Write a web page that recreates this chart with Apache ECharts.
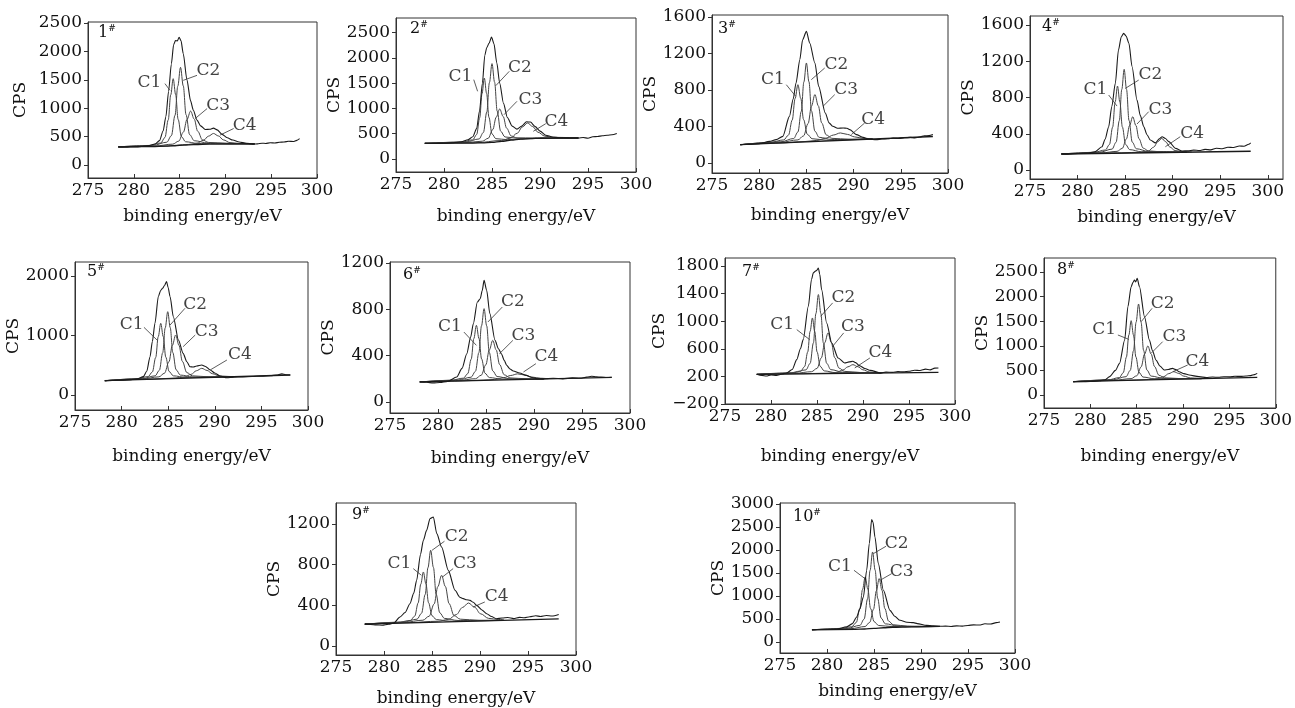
<!DOCTYPE html>
<html><head><meta charset="utf-8">
<script src="https://cdn.jsdelivr.net/npm/echarts@6/dist/echarts.min.js"></script>
<style>html,body{margin:0;padding:0;background:#fff}#c{width:1295px;height:708px}</style>
</head><body><div id="c"></div>
<script>
// ---------------- DATA ----------------
const xTicks = [275, 280, 285, 290, 295, 300];
const panelNames = ['1', '2', '3', '4', '5', '6', '7', '8', '9', '10'];

// Panel 1
const p1_yTicks = [0, 500, 1000, 1500, 2000, 2500];
const p1_total = [[278.3,318],[279,312],[279.6,320],[280.3,318],[281,332],[281.7,345],[282.3,370],[282.8,430],[283.2,600],[283.5,850],[283.8,1300],[284.1,1780],[284.35,2120],[284.55,2190],[284.75,2185],[284.95,2250],[285.15,2190],[285.4,1960],[285.8,1500],[286.2,1130],[286.5,965],[286.9,790],[287.3,690],[287.8,625],[288.3,630],[288.7,650],[289.1,620],[289.6,545],[290.2,480],[290.8,440],[291.5,405],[292.3,385],[293,368],[293.5,372],[294,385],[294.4,380],[294.9,392],[295.4,388],[295.9,402],[296.4,405],[296.9,420],[297.4,415],[297.8,435],[298.1,465]];
const p1_base = [[278.3,320],[282,325],[283.5,332],[284.5,340],[285.5,350],[286.5,358],[287.5,365],[289,370],[293.2,372]];
const p1_c1 = [[278.3,320],[281.6,342],[282.95,389],[283.4,486],[283.76,795],[284.03,1234],[284.3,1520],[284.57,1239],[284.84,804],[285.2,501],[285.65,410],[287,380],[293.2,372]];
const p1_c2 = [[278.3,320],[282.1,346],[283.6,402],[284.1,516],[284.5,876],[284.8,1387],[285.1,1720],[285.4,1393],[285.7,888],[286.1,534],[286.6,428],[288.1,388],[293.2,372]];
const p1_c3 = [[278.3,320],[282.3,335],[284.25,368],[284.9,421],[285.42,581],[285.81,804],[286.2,950],[286.59,811],[286.98,594],[287.5,442],[288.15,398],[290.1,380],[293.2,372]];
const p1_c4 = [[278.3,320],[283.3,334],[286,363],[286.9,385],[287.62,438],[288.16,509],[288.7,556],[289.24,512],[289.78,443],[290.5,395],[291.4,380],[293.2,374]];
const p1_labels = [['C1',281.7,1460],['C2',288.15,1666],['C3',289.2,1052],['C4',292.1,702]];
const p1_leaders = [[[283.4,1433],[283.95,1315]],[[286.9,1579],[285.4,1491]],[[288.0,994],[286.7,818]],[[290.9,643],[289.4,526]]];

// Panel 2
const p2_yTicks = [0, 500, 1000, 1500, 2000, 2500];
const p2_total = [[278,312],[279,305],[280,312],[281,322],[281.8,340],[282.5,380],[283,440],[283.4,600],[283.7,950],[284,1500],[284.25,2050],[284.45,2200],[284.7,2290],[284.95,2410],[285.2,2280],[285.5,1900],[285.8,1500],[286.2,1100],[286.6,820],[287.1,650],[287.6,590],[288.1,650],[288.6,735],[289,730],[289.5,640],[290,550],[290.6,470],[291.3,435],[292,420],[293,418],[294,415],[294.5,425],[295,410],[295.5,440],[296,445],[296.5,460],[297,470],[297.5,478],[298,505]];
const p2_base = [[278,310],[283,315],[284,320],[285,330],[286,350],[287,372],[288,392],[289,403],[290,410],[294,415]];
const p2_c1 = [[278,310],[281.8,332],[283,379],[283.4,483],[283.72,817],[283.96,1291],[284.2,1600],[284.44,1295],[284.68,825],[285,496],[285.4,402],[286.6,382],[288,394],[290,411],[294,415]];
const p2_c2 = [[278,310],[282.3,337],[283.65,396],[284.1,523],[284.46,930],[284.73,1509],[285,1885],[285.27,1517],[285.54,947],[285.9,550],[286.35,436],[287.7,409],[289,406],[290.5,412],[294,415]];
const p2_c3 = [[278,310],[282.2,324],[284,352],[284.6,409],[285.08,582],[285.44,827],[285.8,988],[286.16,842],[286.52,611],[287,455],[287.6,417],[289.4,416],[294,415]];
const p2_c4 = [[278,310],[283.3,321],[286,366],[286.9,411],[287.62,508],[288.16,632],[288.7,712],[289.24,642],[289.78,530],[290.5,452],[291.4,428],[294,418]];
const p2_labels = [['C1',281.7,1634],['C2',287.9,1799],['C3',289.0,1173],['C4',291.7,745]];
const p2_leaders = [[[283.1,1568],[283.5,1338]],[[286.8,1733],[285.4,1450]],[[287.6,1140],[286.25,876]],[[290.6,698],[289.3,547]]];

// Panel 3
const p3_yTicks = [0, 400, 800, 1200, 1600];
const p3_total = [[278,201],[279,205],[280,212],[281.1,237],[281.8,256],[282.5,292],[283.2,511],[283.6,700],[283.9,877],[284.3,1132],[284.6,1351],[285,1443],[285.35,1315],[285.9,1096],[286.3,840],[287,548],[287.4,440],[287.8,402],[288.3,380],[288.9,384],[289.3,380],[289.6,365],[290.3,311],[291,280],[291.6,262],[292.4,256],[293,262],[293.6,265],[294.2,272],[294.8,268],[295.4,276],[296,280],[296.5,275],[297,285],[297.5,298],[298,300],[298.4,311]];
const p3_base = [[278,200],[298.4,290]];
const p3_c1 = [[278,200],[281.1,223],[282.6,253],[283.1,305],[283.5,471],[283.8,706],[284.1,858],[284.4,709],[284.7,476],[285.1,314],[285.6,266],[287.1,250],[292,263]];
const p3_c2 = [[278,200],[282.3,232],[283.65,268],[284.1,339],[284.46,566],[284.73,887],[285,1096],[285.27,890],[285.54,571],[285.9,348],[286.35,281],[287.7,257],[292,263]];
const p3_c3 = [[278,200],[282.3,227],[284.1,253],[284.7,297],[285.18,432],[285.54,624],[285.9,749],[286.26,627],[286.62,439],[287.1,308],[287.7,270],[289.5,260],[292,263]];
const p3_c4 = [[278,200],[282,218],[284.85,235],[286.1,247],[287.1,273],[287.85,306],[288.6,329],[289.35,313],[290.1,286],[291.1,270],[292,265]];
const p3_labels = [['C1',281.46,913],['C2',288.17,1078],['C3',289.2,804],['C4',292.06,475]];
const p3_leaders = [[[282.87,858],[283.86,731]],[[286.94,1041],[285.52,913]],[[288.0,749],[286.76,621]],[[291.17,438],[289.76,311]]];

// Panel 4
const p4_yTicks = [0, 400, 800, 1200, 1600];
const p4_total = [[278.3,178],[279,176],[280,182],[281,188],[281.8,200],[282.57,257],[282.9,340],[283.27,478],[283.6,700],[283.97,956],[284.3,1324],[284.6,1470],[284.85,1508],[285.1,1480],[285.4,1398],[285.73,1140],[286.25,772],[286.6,600],[286.96,478],[287.3,390],[287.65,331],[288.2,300],[288.6,345],[288.9,368],[289.2,350],[289.6,313],[290.3,239],[291,210],[291.6,212],[292.2,220],[292.8,215],[293.4,228],[294,222],[294.6,240],[295.2,235],[295.8,252],[296.4,248],[297,265],[297.5,262],[298,285],[298.2,300]];
const p4_base = [[278.3,177],[298.2,207]];
const p4_c1 = [[278.3,177],[281.65,193],[282.93,221],[283.35,281],[283.69,474],[283.95,749],[284.2,927],[284.45,749],[284.71,476],[285.05,283],[285.48,225],[286.75,201],[291.5,197]];
const p4_c2 = [[278.3,177],[282.35,197],[283.63,231],[284.05,306],[284.39,546],[284.65,889],[284.9,1111],[285.15,890],[285.41,548],[285.75,308],[286.18,235],[287.45,205],[291.5,197]];
const p4_c3 = [[278.3,177],[282.5,189],[284.15,206],[284.7,239],[285.14,344],[285.47,492],[285.8,588],[286.13,493],[286.46,345],[286.9,242],[287.45,211],[289.1,199],[291.5,197]];
const p4_c4 = [[278.3,177],[284.65,189],[286.75,198],[287.45,211],[288.01,253],[288.43,312],[288.85,349],[289.27,312],[289.69,255],[290.25,215],[290.95,204],[292,200]];
const p4_labels = [['C1',281.87,883],['C2',287.65,1048],['C3',288.7,662],['C4',292.04,405]];
const p4_leaders = [[[283.27,828],[284.15,706]],[[286.43,993],[285.02,901]],[[287.48,644],[286.25,508]],[[290.8,368],[289.23,257]]];

// Panel 5
const p5_yTicks = [0, 1000, 2000];
const p5_total = [[278.2,241],[279,244],[280,250],[281,258],[281.7,272],[282.33,308],[282.7,400],[283.05,644],[283.3,900],[283.58,1204],[283.94,1653],[284.2,1760],[284.4,1793],[284.6,1840],[284.83,1905],[285,1800],[285.2,1653],[285.55,1316],[286.1,924],[286.6,700],[287,560],[287.34,476],[287.7,470],[288.06,487],[288.6,504],[289,480],[289.5,420],[290,370],[290.56,319],[291.3,290],[292,300],[293,305],[294,310],[295,318],[296,325],[296.6,335],[297.2,355],[297.6,340],[298.1,336]];
const p5_base = [[278.2,240],[298.1,336]];
const p5_c1 = [[278.2,240],[281.5,270],[282.85,309],[283.3,387],[283.66,631],[283.93,979],[284.2,1204],[284.47,981],[284.74,637],[285.1,395],[285.55,322],[286.9,296],[292,307]];
const p5_c2 = [[278.2,240],[282.25,277],[283.6,322],[284.05,415],[284.41,710],[284.68,1128],[284.95,1400],[285.22,1131],[285.49,715],[285.85,424],[286.3,335],[287.65,303],[292,307]];
const p5_c3 = [[278.2,240],[282.2,270],[284,305],[284.6,366],[285.08,558],[285.44,831],[285.8,1008],[286.16,835],[286.52,565],[287,377],[287.6,322],[289.4,305],[292,308]];
const p5_c4 = [[278.2,240],[282.9,265],[285.75,284],[286.7,302],[287.46,347],[288.03,408],[288.6,448],[289.17,413],[289.74,358],[290.5,320],[291.45,312],[292,308]];
const p5_labels = [['C1',281.08,1176],['C2',287.88,1513],['C3',289.13,1064],['C4',292.7,672]];
const p5_leaders = [[[282.4,1137],[283.8,924]],[[286.8,1457],[285.2,1176]],[[287.9,1008],[286.6,812]],[[291.3,588],[289.5,420]]];

// Panel 6
const p6_yTicks = [0, 400, 800, 1200];
const p6_total = [[278.1,175],[278.8,170],[279.5,165],[280.2,168],[281,178],[281.95,216],[282.5,290],[283,417],[283.4,560],[283.68,676],[284.1,863],[284.4,892],[284.6,960],[284.8,1050],[285.07,964],[285.4,763],[285.94,532],[286.3,460],[286.6,417],[286.9,360],[287.15,317],[287.5,285],[287.84,268],[288.5,250],[289.2,230],[289.8,212],[290.3,201],[291,200],[292,205],[293,200],[294,208],[294.8,205],[295.5,215],[296,222],[296.5,218],[297,215],[297.6,212],[298.1,214]];
const p6_base = [[278.1,173],[298.1,212]];
const p6_c1 = [[278.1,173],[281.3,186],[282.65,206],[283.1,245],[283.46,370],[283.73,547],[284,662],[284.27,548],[284.54,372],[284.9,248],[285.35,211],[286.7,197],[291,198]];
const p6_c2 = [[278.1,173],[282.1,190],[283.45,214],[283.9,265],[284.26,427],[284.53,657],[284.8,806],[285.07,658],[285.34,429],[285.7,269],[286.15,220],[287.5,200],[291,198]];
const p6_c3 = [[278.1,173],[282.1,186],[283.9,201],[284.5,231],[284.98,321],[285.34,448],[285.7,532],[286.06,450],[286.42,323],[286.9,235],[287.5,208],[289.3,200],[291,198]];
const p6_c4 = [[278.1,173],[282,181],[284.7,189],[285.9,195],[286.86,210],[287.58,229],[288.3,243],[289.02,233],[289.74,216],[290.7,205],[291.5,201]];
const p6_labels = [['C1',281.25,648],['C2',287.8,863],['C3',288.9,576],['C4',291.3,389]];
const p6_leaders = [[[282.7,604],[284.0,489]],[[286.7,820],[285.2,691]],[[287.8,532],[286.4,417]],[[290.2,331],[288.9,259]]];

// Panel 7
const p7_yTicks = [-200, 200, 600, 1000, 1400, 1800];
const p7_total = [[278.45,232],[279,215],[279.5,205],[280,222],[280.6,215],[281.2,235],[281.7,250],[282.3,300],[282.8,443],[283.2,600],[283.5,733],[284.06,1216],[284.4,1603],[284.6,1700],[284.8,1724],[285,1740],[285.15,1772],[285.3,1680],[285.5,1458],[286.05,975],[286.6,685],[287.3,467],[288,395],[288.5,410],[288.9,419],[289.2,400],[289.6,356],[290.2,315],[290.8,288],[291.9,250],[292.5,262],[293.2,258],[293.8,270],[294.4,265],[295,275],[295.6,290],[296.2,285],[296.8,305],[297.3,295],[297.8,320],[298.2,322]];
const p7_base = [[278.45,230],[298.2,258]];
const p7_c1 = [[278.45,230],[281.95,247],[283.23,277],[283.65,342],[283.99,553],[284.25,852],[284.5,1047],[284.75,853],[285.01,554],[285.35,345],[285.78,280],[287.05,254],[292,249]];
const p7_c2 = [[278.45,230],[282.45,253],[283.8,295],[284.25,387],[284.61,686],[284.88,1110],[285.15,1386],[285.42,1111],[285.69,687],[286.05,390],[286.5,298],[287.85,260],[292,249]];
const p7_c3 = [[278.45,230],[282.6,245],[284.4,268],[285,316],[285.48,470],[285.84,689],[286.2,830],[286.56,690],[286.92,472],[287.4,320],[288,273],[289.8,255],[292,250]];
const p7_c4 = [[278.45,230],[283.5,239],[286.2,247],[287.1,258],[287.82,292],[288.36,339],[288.9,370],[289.44,341],[289.98,296],[290.7,264],[291.6,255],[292.2,251]];
const p7_labels = [['C1',281.2,950],['C2',287.86,1337],['C3',288.9,926],['C4',291.9,540]];
const p7_leaders = [[[282.8,878],[284.2,733]],[[286.7,1265],[285.4,1071]],[[287.9,830],[286.7,636]],[[290.75,467],[289.1,322]]];

// Panel 8
const p8_yTicks = [0, 500, 1000, 1500, 2000, 2500];
const p8_total = [[278.15,272],[279,270],[280,275],[281,290],[281.6,310],[282.08,373],[282.7,500],[283.15,644],[283.7,1118],[284.05,1795],[284.4,2202],[284.6,2290],[284.76,2337],[284.9,2300],[285.05,2371],[285.3,2202],[285.84,1592],[286.37,1118],[286.7,900],[287.08,711],[287.5,590],[287.97,508],[288.4,520],[288.86,542],[289.2,520],[289.58,474],[290.1,435],[290.65,406],[291.7,373],[292.5,355],[293.2,365],[293.8,360],[294.4,372],[295,368],[295.6,380],[296.2,378],[296.8,385],[297.3,395],[297.7,415],[298,440]];
const p8_base = [[278.15,271],[298,359]];
const p8_c1 = [[278.15,271],[281.85,305],[283.13,354],[283.55,453],[283.89,770],[284.15,1219],[284.4,1511],[284.65,1221],[284.91,774],[285.25,460],[285.68,365],[286.95,328],[292,332]];
const p8_c2 = [[278.15,271],[282.5,313],[283.85,373],[284.3,499],[284.66,904],[284.93,1477],[285.2,1850],[285.47,1479],[285.74,908],[286.1,507],[286.55,385],[287.9,337],[292,332]];
const p8_c3 = [[278.15,271],[282.6,301],[284.4,333],[285,391],[285.48,572],[285.84,829],[286.2,996],[286.56,832],[286.92,579],[287.4,402],[288,349],[289.8,333],[292,334]];
const p8_c4 = [[278.15,271],[283.6,297],[286.3,315],[287.2,331],[287.92,374],[288.46,435],[289,474],[289.54,439],[290.08,384],[290.8,347],[291.7,339],[292.2,336]];
const p8_labels = [['C1',281.5,1321],['C2',287.8,1863],['C3',289.06,1186],['C4',291.56,678]];
const p8_leaders = [[[282.97,1220],[284.16,1131]],[[286.66,1762],[285.48,1490]],[[287.8,1084],[286.55,847]],[[290.5,610],[288.9,474]]];

// Panel 9
const p9_yTicks = [0, 400, 800, 1200];
const p9_total = [[278,218],[278.6,212],[279.2,208],[279.8,205],[280.5,215],[281,225],[281.67,285],[282.2,330],[282.7,416],[283.1,520],[283.4,646],[283.8,900],[284.1,1039],[284.44,1138],[284.8,1253],[285.14,1269],[285.5,1105],[286,974],[286.7,744],[287.4,548],[287.9,480],[288.26,466],[288.6,455],[288.96,449],[289.3,430],[289.65,400],[290.2,355],[290.7,318],[291.2,290],[291.7,269],[292.3,275],[292.9,280],[293.5,270],[294.1,282],[294.6,278],[295.2,288],[295.8,298],[296.3,290],[296.9,300],[297.5,296],[298.2,311]];
const p9_base = [[278,215],[298.2,268]];
const p9_c1 = [[278,215],[281.4,231],[282.75,252],[283.2,294],[283.56,424],[283.83,608],[284.1,728],[284.37,610],[284.64,426],[285,298],[285.45,260],[286.8,245],[292,252]];
const p9_c2 = [[278,215],[282,236],[283.44,264],[283.91,322],[284.29,507],[284.58,770],[284.86,941],[285.15,772],[285.43,510],[285.81,327],[286.29,272],[287.71,251],[292,252]];
const p9_c3 = [[278,215],[282.1,233],[284.05,254],[284.7,293],[285.22,413],[285.61,584],[286,695],[286.39,586],[286.78,417],[287.3,299],[287.95,264],[289.9,253],[292,253]];
const p9_c4 = [[278,215],[282.5,230],[285.65,244],[286.7,261],[287.54,310],[288.17,379],[288.8,423],[289.43,382],[290.06,317],[290.9,272],[291.95,261],[292.5,257]];
const p9_labels = [['C1',281.6,810],['C2',287.57,1072],['C3',288.44,810],['C4',291.74,482]];
const p9_leaders = [[[283.05,761],[283.9,695]],[[286.3,1030],[285.0,941]],[[287.2,761],[286.1,679]],[[290.5,433],[289.3,384]]];

// Panel 10
const p10_yTicks = [0, 500, 1000, 1500, 2000, 2500, 3000];
const p10_total = [[278.4,268],[279,270],[280,272],[281,280],[282.1,330],[282.7,400],[283.16,543],[283.5,720],[283.87,978],[284.22,1558],[284.5,2138],[284.75,2659],[284.9,2600],[285.1,2282],[285.46,1703],[286,1123],[286.7,688],[287.2,560],[287.77,471],[288.5,430],[289.18,420],[289.6,400],[290.6,362],[291.3,350],[292,341],[292.6,345],[293.2,338],[293.8,350],[294.4,345],[295,360],[295.6,372],[296.2,368],[296.8,395],[297.4,390],[298,420],[298.4,435]];
const p10_base = [[278.4,265],[283,275],[284,282],[285,295],[286,310],[287,320],[289,330],[292,338]];
const p10_c1 = [[278.4,265],[281.2,287],[282.64,331],[283.11,423],[283.49,719],[283.78,1140],[284.06,1413],[284.35,1146],[284.63,730],[285.01,442],[285.49,359],[286.9,336],[289,332],[292,338]];
const p10_c2 = [[278.4,265],[282.15,298],[283.5,361],[283.95,497],[284.31,934],[284.58,1553],[284.85,1956],[285.12,1562],[285.39,950],[285.75,522],[286.2,395],[287.55,348],[289.5,333],[292,338]];
const p10_c3 = [[278.4,265],[282.55,290],[284.05,336],[284.55,428],[284.95,712],[285.25,1113],[285.55,1377],[285.85,1123],[286.15,729],[286.55,455],[287.05,375],[288.55,344],[292,338]];
const p10_labels = [['C1',281.38,1630],['C2',287.4,2138],['C3',287.95,1522]];
const p10_leaders = [[[282.87,1558],[284.04,1377]],[[286.28,2080],[284.93,1920]],[[286.88,1485],[285.64,1340]]];

// ---------------- LAYOUT ----------------
const layout = [
  {l:88,  t:22,  w:229, h:156, ymin:-228, ymax:2518, xmax:300,   cpsGap:59, xGap:30, tl:98,   tt:24},
  {l:396, t:18,  w:240, h:154, ymin:-257, ymax:2787, xmax:300,   cpsGap:47, xGap:36, tl:410,  tt:20},
  {l:712, t:15,  w:236, h:158, ymin:-110, ymax:1622, xmax:300,   cpsGap:45, xGap:34, tl:718,  tt:20},
  {l:1030,t:16,  w:253, h:163, ymin:-99,  ymax:1700, xmax:301.6, cpsGap:40, xGap:30, tl:1042, tt:18},
  {l:75,  t:262, w:233, h:148, ymin:-252, ymax:2235, xmax:300,   cpsGap:49, xGap:38, tl:87,   tt:263},
  {l:390, t:262, w:240, h:151, ymin:-95,  ymax:1209, xmax:300,   cpsGap:47, xGap:37, tl:403,  tt:266},
  {l:725, t:258, w:230, h:146, ymin:-200, ymax:1916, xmax:300,   cpsGap:55, xGap:44, tl:742,  tt:263},
  {l:1044,t:258, w:233, h:150, ymin:-264, ymax:2785, xmax:300,   cpsGap:50, xGap:40, tl:1057, tt:261},
  {l:336, t:503, w:240, h:152, ymin:-88,  ymax:1406, xmax:300,   cpsGap:42, xGap:35, tl:352,  tt:506},
  {l:780, t:503, w:235, h:150, ymin:-239, ymax:3020, xmax:300,   cpsGap:49, xGap:30, tl:793,  tt:508}
];

const panels = [
  {total:p1_total, base:p1_base, comps:[p1_c1,p1_c2,p1_c3,p1_c4], labels:p1_labels, leaders:p1_leaders, yTicks:p1_yTicks},
  {total:p2_total, base:p2_base, comps:[p2_c1,p2_c2,p2_c3,p2_c4], labels:p2_labels, leaders:p2_leaders, yTicks:p2_yTicks},
  {total:p3_total, base:p3_base, comps:[p3_c1,p3_c2,p3_c3,p3_c4], labels:p3_labels, leaders:p3_leaders, yTicks:p3_yTicks},
  {total:p4_total, base:p4_base, comps:[p4_c1,p4_c2,p4_c3,p4_c4], labels:p4_labels, leaders:p4_leaders, yTicks:p4_yTicks},
  {total:p5_total, base:p5_base, comps:[p5_c1,p5_c2,p5_c3,p5_c4], labels:p5_labels, leaders:p5_leaders, yTicks:p5_yTicks},
  {total:p6_total, base:p6_base, comps:[p6_c1,p6_c2,p6_c3,p6_c4], labels:p6_labels, leaders:p6_leaders, yTicks:p6_yTicks},
  {total:p7_total, base:p7_base, comps:[p7_c1,p7_c2,p7_c3,p7_c4], labels:p7_labels, leaders:p7_leaders, yTicks:p7_yTicks},
  {total:p8_total, base:p8_base, comps:[p8_c1,p8_c2,p8_c3,p8_c4], labels:p8_labels, leaders:p8_leaders, yTicks:p8_yTicks},
  {total:p9_total, base:p9_base, comps:[p9_c1,p9_c2,p9_c3,p9_c4], labels:p9_labels, leaders:p9_leaders, yTicks:p9_yTicks},
  {total:p10_total, base:p10_base, comps:[p10_c1,p10_c2,p10_c3], labels:p10_labels, leaders:p10_leaders, yTicks:p10_yTicks}
];

// ---------------- CHART ----------------
const FONT = '"DejaVu Serif", "Liberation Serif", serif';
const FS = 17;
const INK = '#111';
const grids = [], xAxes = [], yAxes = [], series = [], titles = [];

panels.forEach((p, i) => {
  const L = layout[i];
  grids.push({left:L.l, top:L.t, width:L.w, height:L.h, show:true, borderColor:'#333', borderWidth:1, backgroundColor:'transparent'});
  xAxes.push({
    gridIndex:i, type:'value', min:275, max:L.xmax,
    axisLine:{show:true, onZero:false, lineStyle:{color:'#333', width:1}},
    axisTick:{show:true, inside:true, length:4, customValues:xTicks, lineStyle:{color:'#333'}},
    axisLabel:{customValues:xTicks, color:INK, fontFamily:FONT, fontSize:FS, margin:4},
    splitLine:{show:false},
    name:'binding energy/eV', nameLocation:'middle', nameGap:L.xGap,
    nameTextStyle:{color:INK, fontFamily:FONT, fontSize:FS}
  });
  yAxes.push({
    gridIndex:i, type:'value', min:L.ymin, max:L.ymax,
    axisLine:{show:true, onZero:false, lineStyle:{color:'#333', width:1}},
    axisTick:{show:true, inside:false, length:4, customValues:p.yTicks, lineStyle:{color:'#333'}},
    axisLabel:{customValues:p.yTicks, color:INK, fontFamily:FONT, fontSize:FS, margin:6,
      formatter: v => v < 0 ? '\u2212' + Math.abs(v) : String(v)},
    splitLine:{show:false},
    name:'CPS', nameLocation:'middle', nameGap:L.cpsGap, nameRotate:90,
    nameTextStyle:{color:INK, fontFamily:FONT, fontSize:FS}
  });
  titles.push({
    text:'{n|' + panelNames[i] + '}{s|#}', left:L.tl, top:L.tt, padding:0,
    textStyle:{fontWeight:'normal', rich:{
      n:{fontFamily:FONT, fontSize:16, color:INK, fontWeight:'normal'},
      s:{fontFamily:FONT, fontSize:9, color:INK, fontWeight:'normal', padding:[0,0,8,0]}
    }}
  });
  const common = {xAxisIndex:i, yAxisIndex:i, showSymbol:false, symbol:'none', silent:true, animation:false};
  p.comps.forEach(c => series.push(Object.assign({type:'line', data:c, smooth:0.35, smoothMonotone:'x',
    lineStyle:{color:'#444', width:1}}, common)));
  series.push(Object.assign({type:'line', data:p.base, smooth:0.3, smoothMonotone:'x', lineStyle:{color:'#1a1a1a', width:1.3}}, common));
  series.push(Object.assign({type:'line', data:p.total, smooth:0.25, smoothMonotone:'x', lineStyle:{color:'#1a1a1a', width:1.1}}, common));
  p.leaders.forEach(ld => series.push(Object.assign({type:'line', data:ld, lineStyle:{color:'#333', width:0.8}}, common)));
  series.push({
    type:'scatter', xAxisIndex:i, yAxisIndex:i, symbolSize:0, silent:true, animation:false,
    data:p.labels.map(l => ({name:l[0], value:[l[1], l[2]]})),
    label:{show:true, position:'inside', formatter:'{b}', color:INK, fontFamily:FONT, fontSize:FS}
  });
});

const chart = echarts.init(document.getElementById('c'), null, {renderer:'canvas'});
chart.setOption({
  animation:false,
  backgroundColor:'#fff',
  title:titles, grid:grids, xAxis:xAxes, yAxis:yAxes, series:series
});
</script></body></html>
